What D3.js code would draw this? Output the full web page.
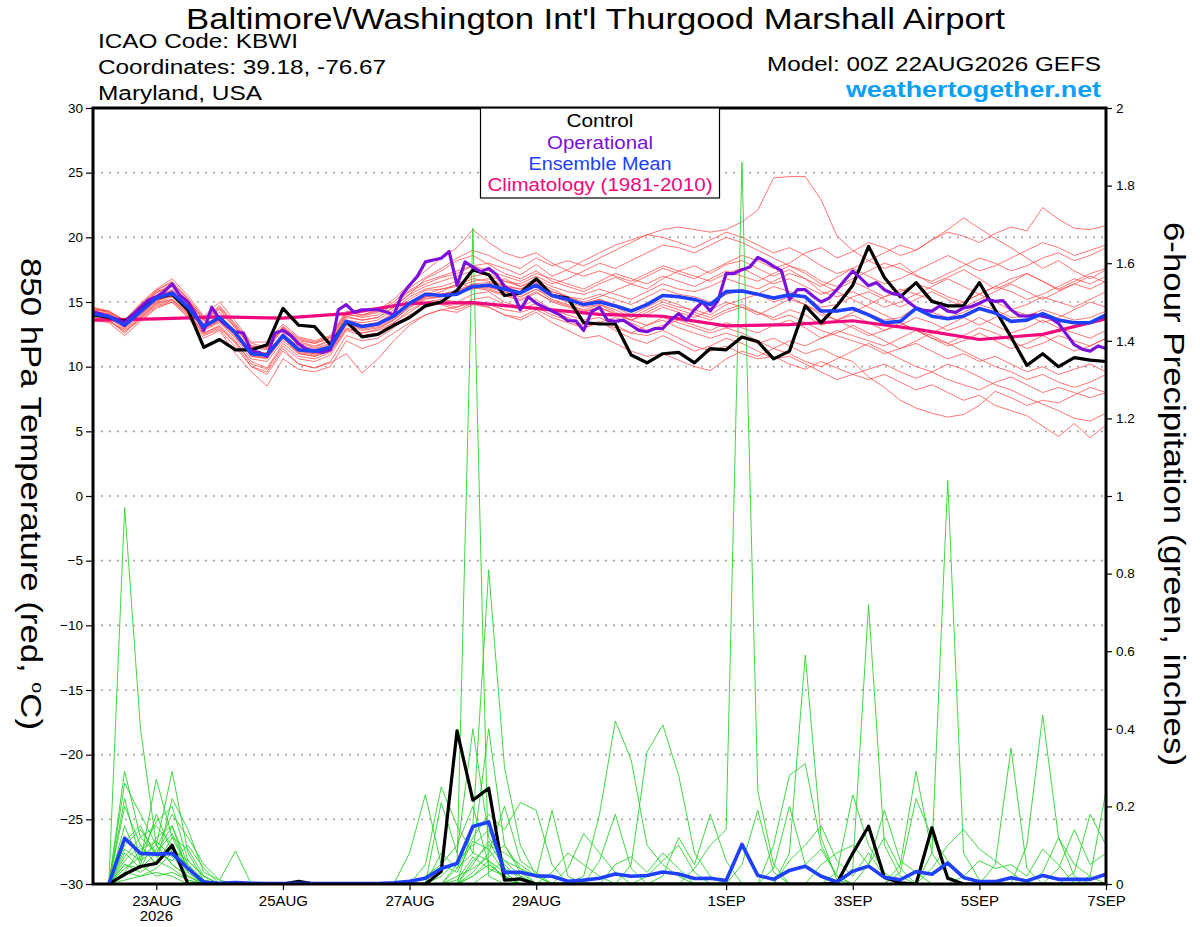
<!DOCTYPE html>
<html>
<head>
<meta charset="utf-8">
<script src="https://cdn.jsdelivr.net/npm/d3@7"></script>
<style>
  body { margin: 0; background: #fff; }
  svg { display: block; font-family: "Liberation Sans", Arial, Helvetica, sans-serif; }
</style>
</head>
<body>
<svg id="chart" width="1200" height="927"></svg>
<script>
// ---- data read off the GEFS plume (00Z 22AUG2026, KBWI) ----
// temperatures every 6 h from 00Z 22AUG (65 values), operational every 3 h (129)
var controlTemp = [14.0,13.8,13.5,14.5,15.3,15.6,14.4,11.5,12.1,11.3,11.3,11.7,14.5,13.2,13.1,11.7,13.5,12.3,12.5,13.2,13.8,14.7,15.0,15.9,17.5,17.1,15.5,15.7,16.8,15.5,15.3,13.4,13.3,13.3,10.9,10.3,11.0,11.1,10.3,11.4,11.3,12.3,11.95,10.6,11.2,14.7,13.4,14.7,16.3,19.3,16.9,15.4,16.5,15.05,14.7,14.7,16.5,14.4,12.3,10.1,11.0,10.0,10.7,10.5,10.4];

var operTemp = [14.25,14.07,13.87,13.66,13.4,14.0,14.6,15.15,15.4,15.8,
  16.4,15.5,15.0,14.0,12.8,14.6,13.65,13.1,12.7,12.6,
  11.2,11.1,10.8,12.6,12.8,12.4,11.75,11.35,11.2,11.1,
  11.3,14.4,14.8,14.2,14.4,14.4,14.4,14.25,14.0,15.5,
  16.3,17.0,18.1,18.25,18.38,18.9,16.3,18.1,17.7,17.35,
  17.6,17.1,16.2,15.8,14.4,15.4,14.9,14.6,14.3,14.0,
  13.55,13.55,12.8,14.25,14.6,13.6,13.5,13.6,13.2,12.8,
  12.7,12.95,12.95,13.6,14.1,13.6,14.4,15.0,14.3,15.15,
  17.2,17.2,17.5,17.7,18.45,18.15,17.75,17.4,15.2,15.95,
  15.95,15.45,15.0,15.3,15.95,16.7,17.4,16.85,16.25,16.5,
  15.95,15.65,15.55,15.0,14.55,14.35,14.3,14.7,14.3,14.2,
  14.55,14.65,14.9,15.2,15.05,15.1,14.4,13.95,13.9,14.0,
  13.9,13.75,13.35,12.5,11.7,11.35,11.2,11.6,11.4];

var meanTemp = [14.07,13.9,13.2,14.25,15.3,15.7,14.6,13.1,13.8,12.6,
  11.0,10.9,12.4,11.3,11.2,11.5,13.5,13.1,13.3,13.9,
  14.9,15.6,15.5,15.6,16.2,16.3,16.0,15.7,16.3,15.5,
  15.2,14.8,15.0,14.7,14.3,14.8,15.5,15.4,15.2,14.8,
  15.8,15.85,15.6,15.3,15.55,15.4,14.3,14.3,14.5,14.0,
  13.4,13.5,14.5,13.9,13.7,13.9,14.5,14.15,13.5,13.6,
  14.1,13.6,13.4,13.4,14.0];

// climatology, one value per day at 00Z
var climTemp = [13.6,13.7,13.85,13.75,14.1,14.9,14.95,14.5,14.05,13.9,13.15,13.25,13.55,12.9,12.1,12.5,13.7];

var memberTemp = [
  [14.3,14.0,13.0,14.6,15.8,16.2,15.0,13.6,14.4,13.0,11.4,11.6,13.0,12.0,11.8,12.2,14.0,13.9,14.2,14.8,15.8,16.4,16.9,17.2,17.8,18.0,17.6,17.1,17.9,17.0,17.5,18.2,18.8,19.4,19.8,20.2,20.6,20.8,20.6,20.4,20.6,21.2,22.1,24.6,24.7,24.7,22.9,20.1,19.0,18.2,17.6,18.0,17.1,16.4,16.9,17.5,16.8,16.0,16.5,17.2,16.6,15.9,16.4,17.0,16.5],
  [13.8,13.6,12.6,13.8,14.9,15.2,14.2,12.6,13.2,12.0,10.2,9.8,11.6,10.6,10.4,10.9,12.8,12.4,12.6,13.4,14.2,15.0,15.2,15.0,15.6,15.8,15.0,14.6,15.2,14.4,14.0,13.6,13.8,13.2,12.6,12.4,12.8,12.2,11.6,11.2,11.6,11.0,10.6,10.8,10.2,9.8,10.4,9.9,9.4,9.0,9.4,8.8,8.2,8.6,8.0,7.4,7.8,7.0,6.6,6.2,5.4,4.6,5.6,4.5,5.5],
  [14.6,14.3,13.5,14.8,15.9,16.6,15.3,13.8,14.7,13.3,11.8,11.5,13.1,11.9,11.6,12.0,13.9,13.6,13.8,14.6,15.6,16.8,17.4,18.2,18.6,17.9,17.2,16.8,17.4,16.6,16.2,15.8,16.4,16.9,16.4,17.0,17.6,17.2,16.8,17.4,18.0,18.6,18.2,17.6,18.0,18.8,19.2,18.4,18.9,19.6,19.2,18.6,19.0,19.8,20.4,20.1,19.6,20.3,20.8,20.5,22.3,21.4,20.7,20.6,20.9],
  [14.0,13.8,13.4,14.4,15.4,15.9,14.9,13.3,13.9,12.8,11.2,11.0,12.6,11.5,11.3,11.7,13.6,13.2,13.4,14.2,15.2,15.9,16.0,16.2,16.6,16.8,16.2,16.0,16.5,15.8,15.4,15.0,15.4,15.9,16.4,16.0,16.8,17.4,17.8,17.2,17.9,18.2,17.6,17.0,17.5,16.8,16.2,16.9,17.6,18.2,18.8,19.4,19.0,19.8,20.6,21.5,20.7,19.9,19.2,18.4,17.6,18.2,17.4,16.8,17.5],
  [14.1,13.7,13.0,13.9,14.9,15.4,14.2,12.8,13.4,12.2,10.6,10.4,12.0,11.0,10.8,11.2,13.2,12.8,13.0,13.6,14.6,15.2,15.4,15.6,16.2,16.0,15.6,15.2,15.8,15.0,14.6,14.2,14.6,14.0,13.6,13.2,13.6,13.0,12.6,12.2,12.6,12.2,11.8,12.2,11.6,11.0,11.4,10.8,10.4,9.2,8.4,7.4,6.8,6.4,6.1,6.3,7.0,8.1,7.6,7.0,7.4,7.2,7.8,8.4,8.0],
  [13.9,13.5,12.8,13.7,14.7,15.1,14.0,12.5,13.0,11.8,10.0,9.6,11.4,10.2,9.9,10.4,12.4,12.0,12.2,13.0,14.0,14.6,14.9,14.6,15.2,15.4,14.8,14.4,14.9,14.2,13.8,13.2,13.5,12.8,12.2,11.8,12.4,11.8,11.2,11.6,12.2,11.8,11.2,10.6,10.8,10.2,9.6,9.0,9.4,9.8,10.2,9.6,9.1,9.6,10.2,9.8,9.2,8.6,8.2,7.6,7.1,6.6,6.0,5.8,6.4],
  [14.2,14.1,13.3,14.3,15.5,15.8,14.7,13.2,13.9,12.7,11.1,11.0,12.5,11.4,11.2,11.6,13.6,13.2,13.4,14.0,15.0,15.7,15.6,15.8,16.4,16.5,16.2,15.8,16.4,15.6,15.3,14.9,15.2,14.8,14.4,14.9,15.6,15.5,15.2,14.8,15.6,15.9,15.6,15.2,15.6,15.4,14.4,14.2,14.6,14.1,13.6,13.8,14.6,14.2,13.8,14.2,14.8,14.4,13.8,13.9,14.4,14.0,13.6,13.8,14.3],
  [14.4,14.2,13.6,14.9,16.0,16.8,15.5,13.9,15.0,13.5,11.9,11.9,13.3,12.3,12.0,12.4,14.3,14.0,14.3,15.0,16.1,16.9,17.6,18.4,19.0,18.6,18.0,17.6,18.4,17.8,18.2,17.8,18.4,19.0,19.6,20.2,20.0,19.6,19.2,19.8,20.4,20.0,19.4,18.8,19.2,18.6,17.8,17.2,17.6,17.0,16.4,16.8,17.4,18.0,18.6,18.0,17.4,17.8,18.4,19.0,19.6,19.2,18.6,19.0,19.4],
  [13.7,13.5,12.9,13.8,14.8,15.2,14.1,12.6,13.1,11.9,10.4,9.9,11.8,10.8,10.6,11.1,12.9,12.6,12.8,13.4,14.4,15.0,14.8,14.4,14.9,14.6,14.0,13.6,14.2,13.4,12.8,12.2,12.4,11.8,11.2,10.8,11.0,10.5,10.0,9.7,10.6,11.2,10.8,11.4,12.0,11.6,12.2,12.8,12.4,12.0,11.6,12.2,12.8,12.4,11.8,12.4,13.0,12.6,12.0,11.4,11.8,12.4,12.0,11.6,12.2],
  [14.0,14.0,13.3,14.1,15.1,15.5,14.5,13.0,13.6,12.4,10.8,10.6,12.2,11.2,11.0,11.4,13.3,13.0,13.2,13.8,14.8,15.4,15.8,16.4,17.0,17.2,16.6,16.2,16.8,16.2,15.8,15.6,16.0,15.6,15.2,15.8,16.4,16.0,15.8,16.2,16.8,16.4,16.0,16.6,17.2,16.8,15.8,15.4,15.8,15.2,14.6,15.0,15.6,15.2,14.6,15.0,15.6,15.0,14.4,14.8,15.4,15.0,14.6,15.2,15.8],
  [13.6,13.4,12.4,13.5,14.5,15.0,13.8,12.2,12.8,11.0,9.6,8.5,10.6,9.8,9.6,10.0,12.0,11.4,11.8,12.6,13.4,14.0,14.4,14.6,15.0,14.8,14.4,14.2,14.6,14.0,13.6,13.0,13.4,13.8,13.4,12.8,13.2,13.6,13.2,12.8,13.4,13.0,12.6,13.2,13.6,13.0,12.2,12.6,13.2,12.6,12.0,11.4,11.8,11.2,10.6,11.0,10.4,10.8,10.2,9.6,10.0,9.4,9.8,10.2,9.6],
  [14.2,13.9,13.1,14.2,15.2,16.0,14.8,13.0,13.7,12.5,11.2,10.8,12.4,11.6,11.4,11.8,13.6,13.4,13.6,14.4,15.4,16.0,16.2,16.6,16.0,16.4,16.8,16.2,16.6,16.0,15.4,14.8,15.2,14.6,14.0,14.6,15.2,14.8,14.2,13.8,14.4,14.8,14.2,13.8,14.4,14.0,13.2,13.6,14.2,14.8,15.4,16.0,15.6,16.2,16.8,16.2,15.6,16.2,16.8,17.2,16.6,16.0,16.6,17.2,17.6],
  [14.5,14.2,13.4,14.5,15.7,16.4,15.2,13.5,14.2,13.0,11.5,11.3,12.9,11.8,11.5,12.0,13.8,13.6,13.8,14.6,15.6,16.2,16.6,17.0,17.4,17.0,16.6,16.4,17.0,16.4,16.8,17.4,18.0,17.6,18.2,18.8,19.4,19.2,18.8,19.4,20.0,19.6,19.0,18.4,17.8,17.2,16.4,15.8,15.2,14.6,14.0,13.4,12.8,12.2,11.8,11.2,10.6,10.0,9.6,9.0,9.4,8.8,8.4,8.8,9.4],
  [14.3,14.1,13.4,14.4,15.4,15.8,14.6,13.2,13.8,12.6,11.0,11.1,12.5,11.2,11.0,11.4,13.4,13.0,13.3,14.0,14.9,15.6,16.0,16.3,16.8,16.6,16.3,16.0,16.6,15.8,15.4,15.2,15.6,15.2,14.8,15.4,16.0,15.6,15.4,15.0,15.6,16.0,15.6,15.0,15.4,14.8,14.0,13.6,14.0,13.4,12.8,13.2,13.8,13.4,12.8,13.2,13.8,13.2,12.6,13.0,13.6,13.0,12.6,12.2,12.8],
  [13.9,13.8,13.2,14.0,15.0,15.6,14.4,12.9,13.5,12.3,10.9,10.7,12.2,11.0,10.8,11.2,13.0,12.6,12.9,13.6,14.6,15.4,15.6,15.9,16.4,16.1,15.8,15.4,16.0,15.2,14.8,14.4,14.8,14.4,13.8,14.4,15.0,14.6,14.4,14.0,14.8,15.2,15.6,16.2,15.8,15.4,14.6,14.8,15.4,15.8,15.2,14.6,15.2,15.8,15.2,14.6,15.2,15.8,16.4,15.8,15.2,15.8,16.4,16.0,16.6],
  [14.4,14.3,13.6,14.6,15.7,16.2,15.1,13.7,14.6,13.2,11.6,11.5,13.1,12.2,11.9,12.3,14.2,14.0,14.4,15.2,16.4,17.4,18.4,19.2,20.6,19.6,18.8,18.4,18.8,18.0,17.4,17.0,17.4,17.0,16.6,17.2,17.8,17.4,17.0,16.6,17.2,17.6,17.0,16.4,16.8,16.2,15.6,16.0,16.6,16.0,15.4,15.8,16.4,16.0,15.4,15.0,15.6,16.2,15.8,15.2,15.6,16.2,16.8,16.4,17.0],
  [14.1,13.9,13.2,14.2,15.3,15.7,14.6,13.1,13.7,12.6,11.0,10.8,12.3,11.3,11.1,11.5,13.4,13.1,13.3,13.9,14.8,15.4,15.6,15.8,16.0,16.2,15.8,15.4,16.0,15.4,15.0,14.6,14.8,14.2,13.6,14.0,14.6,14.2,13.8,14.4,15.0,14.6,14.0,14.6,15.2,14.8,14.2,13.6,13.0,12.4,12.8,13.4,12.8,12.2,11.6,12.0,12.6,12.0,11.4,11.8,12.4,11.8,11.2,11.6,12.2],
  [13.8,13.6,12.7,13.6,14.6,15.0,13.9,12.4,12.9,11.5,10.0,9.4,11.2,10.2,9.9,10.3,11.0,9.5,10.6,12.0,13.2,14.0,14.4,14.2,14.8,14.6,14.0,13.8,14.4,13.8,13.4,13.0,13.4,13.0,12.6,13.2,13.8,13.4,13.0,12.6,13.0,12.6,12.0,11.4,11.0,10.4,10.0,10.6,11.2,11.8,11.2,10.6,10.0,9.6,9.0,8.6,8.2,8.8,9.2,8.6,8.0,8.4,8.0,7.6,8.0],
  [14.5,14.3,13.5,14.7,15.9,16.5,15.2,13.6,14.5,13.1,11.6,11.4,13.0,12.1,11.8,12.2,14.1,13.8,14.0,14.8,15.9,16.6,17.0,17.4,17.8,17.4,17.0,16.6,17.2,16.8,16.4,16.0,16.6,17.2,16.8,16.4,17.0,16.6,16.2,16.8,17.4,17.0,16.6,17.2,17.8,17.4,16.6,16.2,16.8,17.4,18.0,17.6,17.0,16.6,17.2,17.8,18.4,18.0,17.4,17.8,18.4,18.8,18.2,18.6,19.2],
  [14.0,13.7,13.1,14.0,15.1,15.5,14.4,12.9,13.6,12.4,10.8,10.7,12.2,11.1,10.9,11.3,13.3,12.9,13.1,13.7,14.7,15.3,15.4,15.6,16.1,15.9,15.5,15.1,15.7,15.1,14.7,14.3,14.6,14.1,13.6,14.2,14.8,14.4,14.0,13.6,14.2,14.6,14.2,13.6,14.0,13.4,12.8,12.4,12.0,11.6,11.0,11.4,12.0,12.6,13.2,13.8,13.2,13.8,14.4,14.0,13.4,13.8,14.4,15.0,14.6]
];

// 6-hour precipitation (inches), periods ending 06Z 22AUG ... 00Z 7SEP (64 values)
var controlPrcp = [0,.025,.045,.053,.1,0,0,0, 0,0,0,0,.007,0,0,0, 0,0,0,0,0,.032,.395,.216, .247,.01,.013,0,0,0,0,0, 0,0,0,0,0,0,0,0, 0,0,0,0,0,0,.002,.079, .149,.017,.003,0,.145,.015,0,0, 0,0,0,0,0,0,0,0];
var meanPrcp = [0,.118,.079,.077,.079,.04,.005,.002, .004,.002,.001,.001,.002,.001,.001,.001, .001,.001,.003,.007,.015,.04,.053,.148, .16,.03,.03,.021,.02,.007,.01,.015, .026,.02,.022,.031,.026,.014,.015,.009, .102,.022,.012,.035,.046,.02,.005,.033, .046,.017,.011,.032,.025,.054,.017,.006, .006,.016,.008,.022,.012,.012,.012,.025];

var memberPrcp = [
  [0,.97,.4,.1,.05,.02,0,0, 0,0,0,0,0,0,0,0, 0,0,0,0,0,0,0,.02, .05,.02,0,0,0,0,0,0, 0,0,0,0,0,0,0,0, .05,.19,.03,0,0,0,0,0, 0,0,0,0,0,0,0,0, 0,0,0,0,0,0,0,0],
  [0,.29,.12,.08,.15,.05,0,0, 0,0,0,0,0,0,0,0, 0,0,0,.08,.23,.05,.1,.2, .05,.02,0,0,0,0,0,0, 0,0,0,0,0,0,0,0, 0,0,.1,.28,.31,.1,.02,0, 0,0,0,0,0,0,0,0, 0,0,0,0,0,0,0,0],
  [0,.26,.18,.1,.29,.08,.01,0, 0,0,0,0,0,0,0,0, 0,0,0,0,.05,.25,.15,.08, .4,.1,.03,0,0,0,0,0, 0,0,0,0,0,0,0,0, 0,0,0,.08,.59,.12,.01,0, 0,0,0,0,0,0,0,0, 0,0,0,0,0,0,0,0],
  [0,.22,.06,.27,.12,.04,0,0, 0,0,0,0,0,0,0,0, 0,0,0,0,0,.21,.08,.4, .12,.06,.04,0,0,0,0,0, 0,0,0,0,0,0,0,0, 0,0,.04,.2,.05,.09,.02,0, 0,0,0,0,0,0,0,0, 0,0,0,0,0,0,0,0],
  [0,.2,.1,.05,.22,.14,.03,.01, .085,0,0,0,0,0,0,0, 0,0,0,0,0,0,0,0, 0,0,0,0,0,0,0,0, 0,0,0,0,0,0,0,0, 0,0,0,0,0,0,.03,.23, .1,.03,0,0,0,0,0,0, 0,0,0,0,0,0,0,0],
  [0,.15,.05,.18,.08,.02,0,0, 0,0,0,0,0,0,0,0, 0,0,0,0,0,0,.05,1.69, .02,0,0,0,0,0,0,0, 0,0,0,0,0,0,0,0, 0,0,0,0,0,0,0,.04, .72,.1,.02,0,0,0,0,0, 0,0,0,0,0,0,0,0],
  [0,.12,.08,.16,.2,.06,.02,0, 0,0,0,0,0,0,0,0, 0,0,0,0,0,0,0,.15, .81,.3,.1,.02,0,0,0,0, 0,0,0,0,0,0,0,0, 0,0,0,0,0,0,0,0, .05,.19,.06,.03,0,0,0,0, 0,0,0,0,0,0,0,0],
  [0,.1,.14,.08,.06,.1,.04,0, 0,0,0,0,0,0,0,0, 0,0,0,0,0,0,.04,.12, .18,.14,.21,.19,.05,0,0,0, 0,0,0,0,0,0,0,0, 0,0,0,0,0,0,0,0, 0,0,.05,.29,.08,.02,0,0, 0,0,0,0,0,0,0,0],
  [0,.08,.04,.12,.15,.03,0,0, 0,0,0,0,0,0,0,0, 0,0,0,0,0,0,0,.06, .1,.08,.05,.02,.19,.02,0,0, 0,0,0,0,0,0,0,0, 0,0,0,0,0,0,0,0, 0,0,.03,.22,.12,.06,.02,0, 0,0,0,0,0,0,0,0],
  [0,.06,.1,.05,.12,.09,.02,0, 0,0,0,0,0,0,0,0, 0,0,0,0,0,.02,.06,.1, .14,.05,.01,0,0,0,0,0, .05,.07,.03,.08,.04,0,0,0, 0,0,0,0,0,0,0,0, 0,0,0,0,.08,1.04,.08,.01, 0,0,0,0,0,0,0,0],
  [0,.05,.03,.06,.04,.01,0,0, 0,0,0,0,0,0,0,0, 0,0,0,0,0,0,0,.03, .08,.2,.06,.03,0,0,0,0, 0,0,.02,.06,.1,.03,0,0, 0,0,0,0,0,0,0,0, 0,0,0,0,.04,.1,.14,.09, .06,.03,0,0,0,0,0,0],
  [0,.04,.07,.1,.05,.02,0,0, 0,0,0,0,0,0,0,0, 0,0,0,0,0,0,.02,.04, .07,.1,.04,.02,0,.04,.13,.08, .03,0,0,0,0,0,0,0, 0,0,0,0,0,0,0,0, 0,0,0,0,0,0,0,0, .05,.35,.04,0,0,0,0,0],
  [0,.03,.02,.04,.08,.05,.01,0, 0,0,0,0,0,0,0,0, 0,0,0,0,0,0,0,.02, .06,.03,0,0,0,0,0,.06, .18,.04,0,0,0,0,0,0, 0,0,0,0,0,0,0,0, 0,0,0,0,0,0,0,0, 0,0,.1,.435,.12,.02,0,0],
  [0,.02,.05,.02,.03,.01,0,0, 0,0,0,0,0,0,0,0, 0,0,0,0,.02,.05,.03,.11, .09,.03,0,0,0,0,.02,.18, .42,.32,.1,.05,.02,0,0,0, 0,0,0,0,0,0,0,0, 0,0,0,0,0,0,0,0, 0,0,0,.03,.12,.05,.02,0],
  [0,.07,.12,.15,.1,.04,0,0, 0,0,0,0,0,0,0,0, 0,0,0,0,0,0,0,.05, .11,.04,.02,0,0,0,0,0, 0,.05,.34,.41,.28,.08,.02,0, 0,0,0,0,0,0,0,0, 0,0,0,0,0,0,0,0, 0,0,0,0,.04,.14,.05,.08],
  [0,.09,.06,.09,.18,.12,.05,.01, 0,0,0,0,0,0,0,0, 0,0,0,0,0,0,.01,.07, .04,.02,0,0,0,0,0,0, 0,0,0,.02,.12,.05,.18,.06, 0,0,0,0,0,0,0,0, 0,0,0,0,0,0,0,0, 0,0,0,0,0,.03,.18,.1],
  [0,.03,.09,.11,.07,.03,0,0, 0,0,0,0,0,0,0,0, 0,0,0,0,0,0,0,0, .03,.06,.02,0,0,0,0,0, 0,0,0,0,0,.04,.1,.14, 1.86,.24,.05,0,0,0,0,0, 0,0,0,0,0,0,0,0, 0,0,0,0,0,0,.02,.24],
  [0,.01,.02,.03,.02,0,0,0, 0,0,0,0,0,0,0,0, 0,0,0,0,0,0,0,0, 0,0,0,0,.03,.08,.05,.02, 0,0,0,0,0,0,0,0, 0,0,0,0,0,.05,.08,.1, .05,.12,.04,0,0,0,0,0, 0,0,0,0,0,0,0,0],
  [0,.11,.15,.07,.09,.06,.02,0, 0,0,0,0,0,0,0,0, 0,0,0,0,0,.08,.04,.08, .06,.01,0,0,0,0,0,0, 0,0,0,0,0,0,0,0, 0,0,0,.06,.1,.15,.06,.02, .08,.02,0,0,0,0,0,0, 0,0,0,0,0,0,0,0],
  [0,.05,.04,.08,.13,.04,0,0, 0,0,0,0,0,0,0,0, 0,0,0,0,0,0,0,0, 0,0,0,0,0,0,0,0, 0,0,0,0,0,0,0,0, 0,0,0,0,0,0,0,0, 0,0,0,0,0,0,.02,.06, .04,.05,.02,.09,.05,0,0,0]
];

// axis ticks and labels
var tempTicks = [-30,-25,-20,-15,-10,-5,0,5,10,15,20,25,30];
var tempGrid = [-25,-20,-15,-10,-5,0,5,10,15,20,25];
var prcpTicks = [0,0.2,0.4,0.6,0.8,1,1.2,1.4,1.6,1.8,2];
var tickHours = [24,72,120,168,240,288,336,384];
var tickNames = ["23AUG","25AUG","27AUG","29AUG","1SEP","3SEP","5SEP","7SEP"];

// ---- drawing ----
var svg = d3.select("#chart");
var plotL = 93, plotR = 1106, plotT = 108, plotB = 884;

var x = d3.scaleLinear().domain([0, 384]).range([plotL, plotR]);
var yT = d3.scaleLinear().domain([-30, 30]).range([plotB, plotT]);
var yP = d3.scaleLinear().domain([0, 2]).range([plotB, plotT]);

svg.append("rect").attr("width", 1200).attr("height", 927).attr("fill", "#fff");

svg.append("clipPath").attr("id", "plot")
  .append("rect").attr("x", plotL).attr("y", plotT)
  .attr("width", plotR - plotL).attr("height", plotB - plotT);

// dotted grid
svg.append("g").selectAll("line").data(tempGrid).enter().append("line")
  .attr("x1", plotL).attr("x2", plotR)
  .attr("y1", function (d) { return yT(d); })
  .attr("y2", function (d) { return yT(d); })
  .attr("stroke", "#a8a8a8").attr("stroke-width", 1.6)
  .attr("stroke-dasharray", "2,6");

var tLine = d3.line().x(function (d, i) { return x(i * 6); }).y(function (d) { return yT(d); });
var opLine = d3.line().x(function (d, i) { return x(i * 3); }).y(function (d) { return yT(d); });
var climLine = d3.line().x(function (d, i) { return x(i * 24); }).y(function (d) { return yT(d); });
var pLine = d3.line().x(function (d, i) { return x((i + 1) * 6); }).y(function (d) { return yP(d); });

var plot = svg.append("g").attr("clip-path", "url(#plot)");

// ensemble members
plot.append("g").selectAll("path").data(memberTemp).enter().append("path")
  .attr("d", tLine).attr("fill", "none")
  .attr("stroke", "#ff4a4a").attr("stroke-width", 0.9).attr("stroke-opacity", 0.85);

plot.append("g").selectAll("path").data(memberPrcp).enter().append("path")
  .attr("d", pLine).attr("fill", "none")
  .attr("stroke", "#2bd42b").attr("stroke-width", 0.9);

// main lines
plot.append("path").datum(climTemp).attr("d", climLine).attr("fill", "none")
  .attr("stroke", "#f0087c").attr("stroke-width", 3.2);
plot.append("path").datum(controlTemp).attr("d", tLine).attr("fill", "none")
  .attr("stroke", "#000").attr("stroke-width", 3.2).attr("stroke-linejoin", "round");
plot.append("path").datum(operTemp).attr("d", opLine).attr("fill", "none")
  .attr("stroke", "#7b10dc").attr("stroke-width", 3.2).attr("stroke-linejoin", "round");
plot.append("path").datum(meanTemp).attr("d", tLine).attr("fill", "none")
  .attr("stroke", "#2040ff").attr("stroke-width", 3.6).attr("stroke-linejoin", "round");

plot.append("path").datum(controlPrcp).attr("d", pLine).attr("fill", "none")
  .attr("stroke", "#000").attr("stroke-width", 3.2).attr("stroke-linejoin", "round");
plot.append("path").datum(meanPrcp).attr("d", pLine).attr("fill", "none")
  .attr("stroke", "#2040ff").attr("stroke-width", 3.6).attr("stroke-linejoin", "round");

// axes
var axL = svg.append("g").attr("transform", "translate(" + plotL + ",0)")
  .call(d3.axisLeft(yT).tickValues(tempTicks).tickSize(7).tickPadding(3));
var axR = svg.append("g").attr("transform", "translate(" + plotR + ",0)")
  .call(d3.axisRight(yP).tickValues(prcpTicks).tickSize(6).tickPadding(4).tickFormat(d3.format("~g")));
var axB = svg.append("g").attr("transform", "translate(0," + plotB + ")")
  .call(d3.axisBottom(x).tickValues(tickHours).tickSize(6).tickPadding(5)
    .tickFormat(function (d, i) { return tickNames[i]; }));

[axL, axR, axB].forEach(function (g) {
  g.select(".domain").remove();
  g.selectAll("line").attr("stroke", "#000").attr("stroke-width", 1.2);
  g.selectAll("text").attr("fill", "#000")
    .style("font-family", '"Liberation Sans", Arial, sans-serif');
});
axL.selectAll("text").style("font-size", "13.5px");
axR.selectAll("text").style("font-size", "13.5px");
axB.selectAll("text").style("font-size", "15px");

svg.append("text").attr("x", x(tickHours[0])).attr("y", 921)
  .attr("text-anchor", "middle").style("font-size", "15px").text("2026");

// frame
svg.append("rect").attr("x", plotL).attr("y", plotT)
  .attr("width", plotR - plotL).attr("height", plotB - plotT)
  .attr("fill", "none").attr("stroke", "#000").attr("stroke-width", 3);

// legend
var legend = svg.append("g");
legend.append("rect").attr("x", 480.5).attr("y", plotT).attr("width", 239).attr("height", 90)
  .attr("fill", "#fff").attr("stroke", "#000").attr("stroke-width", 1.2);
var legendItems = [
  { name: "Control", color: "#000", y: 127, w: 67 },
  { name: "Operational", color: "#7b10dc", y: 148.5, w: 106 },
  { name: "Ensemble Mean", color: "#2040ff", y: 169.5, w: 143 },
  { name: "Climatology (1981-2010)", color: "#f0087c", y: 191, w: 225 }
];
legend.selectAll("text.item").data(legendItems).enter().append("text")
  .attr("class", "item")
  .attr("x", 600).attr("y", function (d) { return d.y; })
  .attr("text-anchor", "middle").attr("fill", function (d) { return d.color; })
  .attr("textLength", function (d) { return d.w; }).attr("lengthAdjust", "spacingAndGlyphs")
  .style("font-size", "17.5px").text(function (d) { return d.name; });

// header texts
function label(t, xx, yy, size, anchor, len, color, weight) {
  svg.append("text").attr("x", xx).attr("y", yy)
    .attr("text-anchor", anchor).attr("fill", color || "#000")
    .attr("textLength", len).attr("lengthAdjust", "spacingAndGlyphs")
    .style("font-size", size + "px").style("font-weight", weight || "normal")
    .text(t);
}
label("Baltimore\\/Washington Int'l Thurgood Marshall Airport", 595.5, 29, 30, "middle", 819);
label("ICAO Code: KBWI", 98, 48, 20, "start", 200);
label("Coordinates: 39.18, -76.67", 98, 74, 20, "start", 288);
label("Maryland, USA", 98, 100, 20, "start", 164);
label("Model: 00Z 22AUG2026 GEFS", 1101, 71, 20, "end", 334);
label("weathertogether.net", 1101, 97, 22, "end", 255, "#0aa0f6", "bold");

// rotated axis titles
var lt = svg.append("text").attr("transform", "translate(21,494) rotate(90)")
  .attr("text-anchor", "middle").attr("textLength", 472).attr("lengthAdjust", "spacingAndGlyphs")
  .style("font-size", "30px");
lt.append("tspan").text("850 hPa Temperature (red, ");
lt.append("tspan").attr("dy", -11).style("font-size", "17px").text("o");
lt.append("tspan").attr("dy", 11).text("C)");

svg.append("text").attr("transform", "translate(1164,494) rotate(90)")
  .attr("text-anchor", "middle").attr("textLength", 544).attr("lengthAdjust", "spacingAndGlyphs")
  .style("font-size", "30px").text("6-hour Precipitation (green, inches)");
</script>
</body>
</html>
